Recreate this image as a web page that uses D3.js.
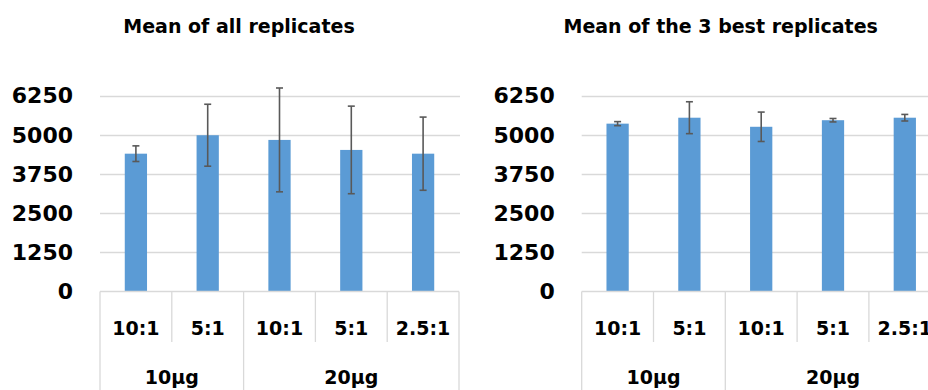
<!DOCTYPE html>
<html>
<head>
<meta charset="utf-8">
<script src="https://cdn.jsdelivr.net/npm/d3@7"></script>
<style>
  body { margin: 0; background: #fff; }
  svg { display: block; font-family: "DejaVu Sans", sans-serif; font-weight: bold; }
</style>
</head>
<body>
<svg id="chart" width="928" height="390"></svg>
<script>
// categories (x axis is two levels: ratio inside dose)
var ratios = ["10:1", "5:1", "10:1", "5:1", "2.5:1"];
var doses = ["10µg", "20µg"];
var doseSizes = [2, 3];
var yTicks = [0, 1250, 2500, 3750, 5000, 6250];

// values
var allMeans = [4390, 4980, 4830, 4510, 4390];
var allErr = [250, 990, 1660, 1400, 1170];
var bestMeans = [5350, 5540, 5250, 5460, 5540];
var bestErr = [65, 510, 470, 55, 105];

var svg = d3.select("#chart");
var gridCol = "#d9d9d9";
var barCol = "#5b9bd5";
var errCol = "#595959";

var y = d3.scaleLinear()
    .domain([0, 6250])
    .range([291, 95.5]);

function drawChart(left, title, means, errs) {
    var plotW = 359;
    var g = svg.append("g");

    var x = d3.scaleBand()
        .domain(d3.range(ratios.length))
        .range([left, left + plotW])
        .padding(0);
    var barW = x.bandwidth() * 0.31;

    g.append("text")
        .attr("x", left + 139)
        .attr("y", 33)
        .attr("text-anchor", "middle")
        .style("font-size", "19px")
        .text(title);

    // gridlines
    g.selectAll(".grid")
        .data(yTicks.filter(function(d) { return d > 0; }))
        .enter().append("line")
        .attr("x1", left)
        .attr("x2", left + plotW + 1)
        .attr("y1", function(d) { return Math.round(y(d)) + 0.5; })
        .attr("y2", function(d) { return Math.round(y(d)) + 0.5; })
        .style("stroke", gridCol)
        .style("stroke-width", 1.3);

    // y labels
    g.selectAll(".ylab")
        .data(yTicks)
        .enter().append("text")
        .attr("x", left - 27)
        .attr("y", function(d) { return y(d); })
        .attr("dy", "0.36em")
        .attr("text-anchor", "end")
        .style("font-size", "22px")
        .text(function(d) { return d; });

    // bars
    g.selectAll(".bar")
        .data(means)
        .enter().append("rect")
        .attr("x", function(d, i) { return x(i) + (x.bandwidth() - barW) / 2; })
        .attr("y", function(d) { return y(d); })
        .attr("width", barW)
        .attr("height", function(d) { return y(0) - y(d); })
        .style("fill", barCol);

    // error bars
    var eb = g.selectAll(".err")
        .data(means)
        .enter().append("g")
        .attr("transform", function(d, i) { return "translate(" + (x(i) + x.bandwidth() / 2) + ",0)"; });
    eb.append("line")
        .attr("y1", function(d, i) { return y(d + errs[i]); })
        .attr("y2", function(d, i) { return y(d - errs[i]); })
        .style("stroke", errCol)
        .style("stroke-width", 1.6);
    eb.append("line")
        .attr("x1", -3.5).attr("x2", 3.5)
        .attr("y1", function(d, i) { return y(d + errs[i]); })
        .attr("y2", function(d, i) { return y(d + errs[i]); })
        .style("stroke", errCol)
        .style("stroke-width", 1.6);
    eb.append("line")
        .attr("x1", -3.5).attr("x2", 3.5)
        .attr("y1", function(d, i) { return y(d - errs[i]); })
        .attr("y2", function(d, i) { return y(d - errs[i]); })
        .style("stroke", errCol)
        .style("stroke-width", 1.6);

    // category axis
    var base = Math.round(y(0)) + 0.5;
    g.append("line")
        .attr("x1", left).attr("x2", left + plotW)
        .attr("y1", base).attr("y2", base)
        .style("stroke", gridCol)
        .style("stroke-width", 1.3);

    var starts = [0];
    for (var k = 0; k < doseSizes.length; k++) starts.push(starts[k] + doseSizes[k]);

    // dividers: full height at group edges, short inside groups
    for (var i = 0; i <= ratios.length; i++) {
        var xx = (i < ratios.length ? x(i) : x(ratios.length - 1) + x.bandwidth());
        var full = starts.indexOf(i) >= 0;
        g.append("line")
            .attr("x1", xx).attr("x2", xx)
            .attr("y1", base).attr("y2", full ? 390 : 342)
            .style("stroke", gridCol)
            .style("stroke-width", 1.3);
    }

    g.selectAll(".xlab")
        .data(ratios)
        .enter().append("text")
        .attr("x", function(d, i) { return x(i) + x.bandwidth() / 2; })
        .attr("y", 335)
        .attr("text-anchor", "middle")
        .style("font-size", "19px")
        .text(function(d) { return d; });

    g.selectAll(".glab")
        .data(doses)
        .enter().append("text")
        .attr("x", function(d, i) {
            return (x(starts[i]) + x(starts[i + 1] - 1) + x.bandwidth()) / 2;
        })
        .attr("y", 384)
        .attr("text-anchor", "middle")
        .style("font-size", "19px")
        .text(function(d) { return d; });
}

drawChart(100, "Mean of all replicates", allMeans, allErr);
drawChart(581.7, "Mean of the 3 best replicates", bestMeans, bestErr);
</script>
</body>
</html>
